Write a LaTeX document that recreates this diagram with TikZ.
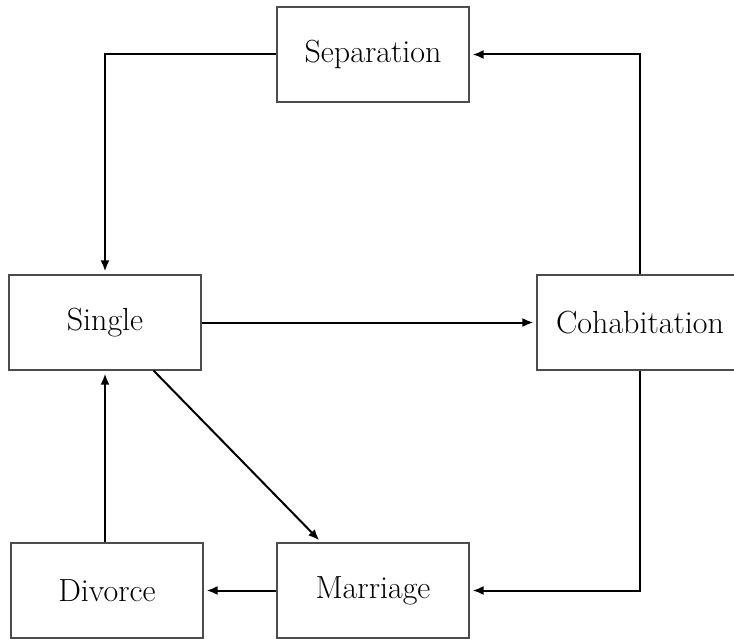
\documentclass[tikz,border=0pt]{standalone}
\usetikzlibrary{arrows.meta}
\begin{document}
\begin{tikzpicture}[x=1pt,y=-1pt,
  box/.style={draw=black!70,line width=1.2pt,minimum width=192pt,minimum height=95pt,inner sep=0pt,
    font=\fontsize{32}{38}\selectfont},
  arr/.style={draw=black,line width=2pt,-{Latex[length=11pt,width=9pt]},shorten >=3pt}]
\useasboundingbox (0,0) rectangle (734,639);
\node[box] (sep) at (373,54.5) {Separation};
\node[box] (single) at (105,322.5) {Single};
\node[box,minimum width=206pt] (coh) at (640,322.5) {Cohabitation};
\node[box] (div) at (107,590.5) {Divorce};
\node[box] (mar) at (373,590.5) {Marriage};
\draw[arr] (sep.west) -| (single.north);
\draw[arr] (coh.north) |- (sep.east);
\draw[arr] (single.east) -- (coh.west);
\draw[arr] ([xshift=-48pt]single.south east) -- ([xshift=45pt]mar.north west);
\draw[arr] (coh.south) |- (mar.east);
\draw[arr] (mar.west) -- (div.east);
\draw[arr] (div.north -| single.south) -- (single.south);
\end{tikzpicture}
\end{document}
